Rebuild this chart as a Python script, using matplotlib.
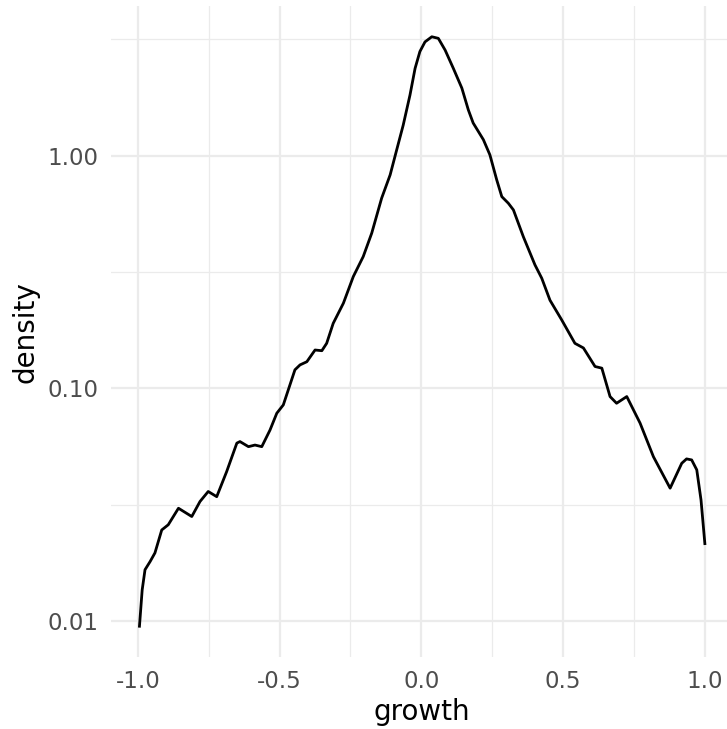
import numpy as np
import matplotlib.pyplot as plt
from matplotlib.ticker import FixedLocator, NullFormatter

# density of growth (log10 y axis)
growth = [-0.995, -0.985, -0.975, -0.957, -0.940, -0.916, -0.893, -0.857, -0.810, -0.781,
          -0.752, -0.722, -0.687, -0.651, -0.640, -0.610, -0.587, -0.563, -0.534, -0.510,
          -0.487, -0.446, -0.428, -0.404, -0.375, -0.351, -0.334, -0.311, -0.275, -0.240,
          -0.205, -0.175, -0.140, -0.110, -0.087, -0.064, -0.040, -0.022, -0.005, 0.013,
          0.037, 0.060, 0.084, 0.113, 0.143, 0.166, 0.183, 0.219, 0.242, 0.266,
          0.284, 0.307, 0.325, 0.360, 0.401, 0.425, 0.454, 0.495, 0.542, 0.572,
          0.613, 0.637, 0.666, 0.689, 0.725, 0.772, 0.819, 0.878, 0.919, 0.936,
          0.954, 0.972, 0.987, 1.001]
density = [0.00936, 0.0136, 0.0166, 0.0180, 0.0196, 0.0246, 0.0259, 0.0305, 0.0281, 0.0326,
           0.0360, 0.0342, 0.0438, 0.0581, 0.0590, 0.0561, 0.0570, 0.0561, 0.0661, 0.0781,
           0.0848, 0.120, 0.126, 0.130, 0.146, 0.145, 0.156, 0.190, 0.232, 0.302,
           0.368, 0.464, 0.656, 0.826, 1.057, 1.35, 1.82, 2.37, 2.80, 3.08,
           3.24, 3.19, 2.84, 2.37, 1.95, 1.57, 1.38, 1.17, 1.007, 0.787,
           0.666, 0.624, 0.584, 0.448, 0.339, 0.297, 0.239, 0.197, 0.156, 0.149,
           0.124, 0.122, 0.0921, 0.0862, 0.0921, 0.0708, 0.0508, 0.0372, 0.0476, 0.0497,
           0.0492, 0.0446, 0.0331, 0.0212]

x_ticks = [-1.0, -0.5, 0.0, 0.5, 1.0]
x_labels = ["-1.0", "-0.5", "0.0", "0.5", "1.0"]
x_minor = [-0.75, -0.25, 0.25, 0.75]
y_ticks = [0.01, 0.1, 1.0]
y_labels = ["0.01", "0.10", "1.00"]
y_minor = [10 ** -1.5, 10 ** -0.5, 10 ** 0.5]

fig = plt.figure(figsize=(7.27, 7.29), dpi=100)
ax = fig.add_axes([0.1527, 0.0984, 0.856, 0.8928])

ax.plot(growth, density, color="black", lw=2.0,
        solid_joinstyle="round", solid_capstyle="butt")

ax.set_yscale("log")
ax.set_xlim(-1.095, 1.101)
ax.set_ylim(0.00698, 4.375)

ax.xaxis.set_major_locator(FixedLocator(x_ticks))
ax.set_xticklabels(x_labels)
ax.xaxis.set_minor_locator(FixedLocator(x_minor))
ax.yaxis.set_major_locator(FixedLocator(y_ticks))
ax.set_yticklabels(y_labels)
ax.yaxis.set_minor_locator(FixedLocator(y_minor))
ax.yaxis.set_minor_formatter(NullFormatter())

ax.grid(which="major", color="#EBEBEB", lw=1.6)
ax.grid(which="minor", color="#EBEBEB", lw=0.9)
ax.set_axisbelow(True)
for s in ax.spines.values():
    s.set_visible(False)

ax.tick_params(which="both", length=0)
ax.tick_params(axis="x", labelsize=16.5, labelcolor="#4D4D4D", pad=9)
ax.tick_params(axis="y", labelsize=16.5, labelcolor="#4D4D4D", pad=9)

ax.set_xlabel("growth", fontsize=20, labelpad=4)
ax.set_ylabel("density", fontsize=20, labelpad=6)

fig.savefig("out.png", dpi=100)
